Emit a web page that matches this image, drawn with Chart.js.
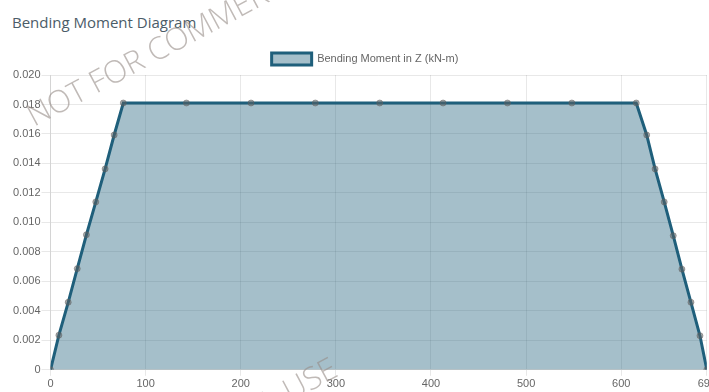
<!DOCTYPE html>
<html>
<head>
<meta charset="utf-8">
<script src="https://cdn.jsdelivr.net/npm/chart.js@4.4.1/dist/chart.umd.min.js"></script>
<style>
  html, body { margin: 0; padding: 0; background: #fff; width: 709px; height: 392px; overflow: hidden; position: relative; }
  #title { position: absolute; left: 12px; top: 12px; font: 15px "Open Sans", sans-serif; color: #4b5c68; white-space: nowrap; }
  #wrap { position: absolute; left: 12px; top: 43px; width: 706px; height: 350px; }
  #mark { position: absolute; left: 0; top: 0; pointer-events: none; }
</style>
</head>
<body>
<div id="title">Bending Moment Diagram</div>
<div id="wrap"><canvas id="chart"></canvas></div>
<canvas id="mark" width="709" height="392"></canvas>
<script>
// Positions along the member (cm) and the bending moment about Z at each station (kN-m)
const stations = [
  0, 8.8, 18.6, 28.1, 37.7, 47.6, 57.4, 66.9, 76.5,
  142.9, 210.8, 278.4, 346.1, 412.7, 480.4, 548.1, 615.8,
  626.8, 635.6, 645.2, 654.7, 663.8, 673.3, 682.8, 690
];
const momentZ = [
  0, 0.00235, 0.00458, 0.00686, 0.00916, 0.01139, 0.01363, 0.01593, 0.0181,
  0.0181, 0.0181, 0.0181, 0.0181, 0.0181, 0.0181, 0.0181, 0.0181,
  0.01593, 0.01363, 0.01139, 0.0091, 0.00683, 0.00458, 0.00231, 0
];
// Tick values along the member axis (the last one marks the member end)
const xTicks = [0, 100, 200, 300, 400, 500, 600, 690];
const seriesLabel = 'Bending Moment in Z (kN-m)';
const watermarkText = 'NOT FOR COMMERCIAL USE';

const points = stations.map((x, i) => ({ x: x, y: momentZ[i] }));

new Chart(document.getElementById('chart'), {
  type: 'line',
  data: {
    datasets: [{
      label: seriesLabel,
      data: points,
      borderColor: '#1f5f7b',
      backgroundColor: 'rgba(30, 95, 123, 0.4)',
      borderWidth: 3,
      fill: 'origin',
      tension: 0,
      pointRadius: 3,
      pointBorderWidth: 1,
      pointBackgroundColor: 'rgba(95, 95, 95, 0.5)',
      pointBorderColor: 'rgba(95, 95, 95, 0.5)'
    }]
  },
  options: {
    responsive: true,
    maintainAspectRatio: false,
    animation: false,
    plugins: {
      legend: {
        labels: { boxWidth: 40, boxHeight: 12, color: '#666', font: { size: 11 } }
      },
      tooltip: { enabled: false }
    },
    scales: {
      x: {
        type: 'linear',
        min: xTicks[0],
        max: xTicks[xTicks.length - 1],
        afterBuildTicks: axis => { axis.ticks = xTicks.map(v => ({ value: v })); },
        ticks: { color: '#666', font: { size: 11 }, padding: 2, maxRotation: 0, autoSkip: false },
        grid: { color: 'rgba(0,0,0,0.09)', tickLength: 6 },
        border: { color: 'rgba(0,0,0,0.09)' }
      },
      y: {
        min: 0,
        max: 0.02,
        ticks: { stepSize: 0.002, color: '#666', font: { size: 11 }, padding: 1 },
        grid: { color: 'rgba(0,0,0,0.09)', tickLength: 9 },
        border: { color: 'rgba(0,0,0,0.09)' }
      }
    }
  }
});

// Diagonal "not for commercial use" stamp across the page
(function drawWatermark() {
  const c = document.getElementById('mark');
  const ctx = c.getContext('2d');
  const angle = -28 * Math.PI / 180;
  ctx.font = '300 31px "Open Sans", sans-serif';
  ctx.fillStyle = 'rgba(150, 140, 135, 0.6)';
  ctx.textBaseline = 'alphabetic';
  function stamp(x, y) {
    ctx.save();
    ctx.translate(x, y);
    ctx.rotate(angle);
    ctx.fillText(watermarkText, 0, 0);
    ctx.restore();
  }
  stamp(34, 127);
  // second copy, placed so its last word sits on the x axis labels
  const lead = ctx.measureText('NOT FOR COMMERCIAL ').width;
  const ux = 290, uy = 402;
  stamp(ux - lead * Math.cos(angle), uy - lead * Math.sin(angle));
})();
</script>
</body>
</html>
